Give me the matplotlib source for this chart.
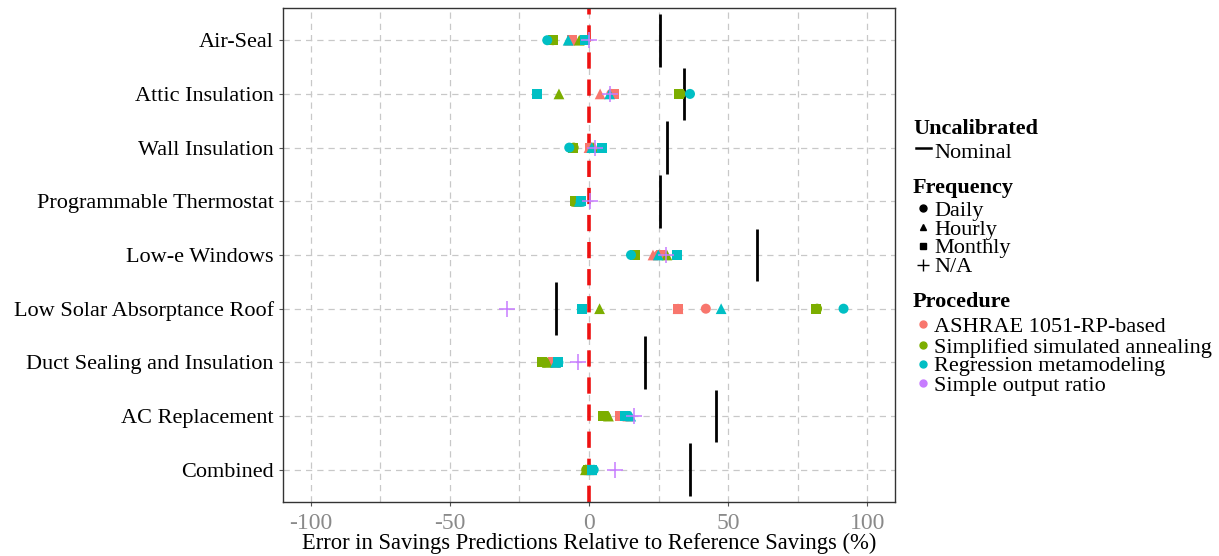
import matplotlib
matplotlib.use("Agg")
import matplotlib.pyplot as plt
from matplotlib.lines import Line2D
import numpy as np

categories = ["Air-Seal", "Attic Insulation", "Wall Insulation", "Programmable Thermostat",
              "Low-e Windows", "Low Solar Absorptance Roof", "Duct Sealing and Insulation",
              "AC Replacement", "Combined"]
nominal = [25.4, 34.3, 27.9, 25.4, 60.4, -11.7, 20.2, 45.8, 36.3]

ashrae_daily   = [-6, 8, 1, -4, 25, 42, -13, 12, 0]
ashrae_hourly  = [-7, 4, 0, -4, 23, 32, -12, 14, 0]
ashrae_monthly = [-6, 9, 0.5, -4.5, 26, 32, -13, 11, 0.5]
ssa_daily      = [-13, 33, -5.5, -5, 16.5, 82, -16, 6, -1]
ssa_hourly     = [-3.5, -10.8, 1.5, -4.5, 28, 3.8, -15, 7, -1.3]
ssa_monthly    = [-13, 32.4, -5.7, -5, 16.5, 81.5, -17, 5, -0.5]
rm_daily       = [-15, 36.3, -7.1, -3, 15.1, 91.5, -11, 14, 1.7]
rm_hourly      = [-7.5, 7.4, 1, -3.5, 24.9, 47.5, -12, 15, 1]
rm_monthly     = [-1.4, -18.8, 4.6, -3, 31.8, -2.5, -11, 13, 1]
sor_na         = [0, 7.5, 2, 0.2, 27.5, -29.5, -3.9, 16.3, 9.2]

procedures = ["ASHRAE 1051-RP-based", "Simplified simulated annealing",
              "Regression metamodeling", "Simple output ratio"]
proc_colors = ["#F8766D", "#7CAE00", "#00BFC4", "#C77CFF"]
frequencies = ["Daily", "Hourly", "Monthly", "N/A"]
freq_markers = ["o", "^", "s", "+"]

series = [
    (ashrae_daily, 0, 0), (ashrae_hourly, 0, 1), (ashrae_monthly, 0, 2),
    (ssa_daily, 1, 0), (ssa_hourly, 1, 1), (ssa_monthly, 1, 2),
    (rm_daily, 2, 0), (rm_hourly, 2, 1), (rm_monthly, 2, 2),
    (sor_na, 3, 3),
]

plt.rcParams['font.family'] = ['Liberation Serif', 'DejaVu Serif']

fig = plt.figure(figsize=(12.19, 5.56), dpi=100)
ax = fig.add_axes([283/1219, 1-502/556, (895-283)/1219, (502-8)/556])

n = len(categories)
ypos = np.arange(n)[::-1] + 1  # first category at top

ax.set_xlim(-110, 110)
ax.set_ylim(0.4, n + 0.6)

# grid
for gx in np.arange(-100, 101, 25):
    ax.axvline(gx, color="#C8C8C8", lw=0.9, ls=(0, (5, 4)), zorder=0)
for gy in ypos:
    ax.axhline(gy, color="#C8C8C8", lw=0.9, ls=(0, (5, 4)), zorder=0)

# nominal segments
ax.vlines(nominal, ypos - 0.49, ypos + 0.49, color="black", lw=2.0, zorder=2)

# zero reference
ax.axvline(0, color="#EE1111", lw=2.6, ls=(0, (4.5, 3)), zorder=1)

for vals, p, f in series:
    m = freq_markers[f]
    if m == "+":
        ax.scatter(vals, ypos, marker="+", s=130, color=proc_colors[p], linewidths=1.1, zorder=3)
    else:
        sz = 52 if m != "^" else 60
        ax.scatter(vals, ypos, marker=m, s=sz, color=proc_colors[p], edgecolors="none", zorder=3)

ax.set_yticks(ypos)
ax.set_yticklabels(categories, fontsize=16, color="black")
ax.set_xticks([-100, -50, 0, 50, 100])
ax.set_xticklabels(["-100", "-50", "0", "50", "100"], fontsize=17, color="#8A8A8A")
ax.tick_params(axis="both", length=3, color="#555555", width=0.8)
ax.tick_params(axis="x", pad=5)
ax.set_xlabel("Error in Savings Predictions Relative to Reference Savings (%)",
              fontsize=16.3, color="black", va="top")
ax.xaxis.set_label_coords(0.5, (502 - 533) / 494)
for s in ax.spines.values():
    s.set_color("#333333")
    s.set_linewidth(1.0)

# legend (manual, pixel coordinates)
def px(x, y):
    return x / 1219, 1 - y / 556

fs = 16
tx = 913
fig.text(*px(tx, 129), "Uncalibrated", fontsize=fs, fontweight="bold", va="center", ha="left")
fig.add_artist(Line2D([px(916, 0)[0], px(931, 0)[0]], [px(0, 148)[1]] * 2, color="black", lw=1.8))
fig.text(*px(934, 153), "Nominal", fontsize=fs, va="center", ha="left")

fig.text(*px(tx, 188), "Frequency", fontsize=fs, fontweight="bold", va="center", ha="left")
fy = [211, 230, 249, 268]
for lab, mk, yy in zip(frequencies, freq_markers, fy):
    x0, y0 = px(923, yy - 3)
    if mk == "+":
        fig.add_artist(Line2D([x0], [y0], marker="+", ms=9, mew=1.0, color="black", ls="none"))
    else:
        fig.add_artist(Line2D([x0], [y0], marker=mk, ms=5, color="black", ls="none"))
    fig.text(*px(934, yy), lab, fontsize=fs, va="center", ha="left")

fig.text(*px(tx, 302), "Procedure", fontsize=fs, fontweight="bold", va="center", ha="left")
py = [327, 348, 367, 386]
for lab, c, yy in zip(procedures, proc_colors, py):
    x0, y0 = px(923, yy - 3)
    fig.add_artist(Line2D([x0], [y0], marker="o", ms=5, color=c, ls="none"))
    fig.text(*px(934, yy), lab, fontsize=fs, va="center", ha="left")

fig.savefig("out.png", dpi=100)
